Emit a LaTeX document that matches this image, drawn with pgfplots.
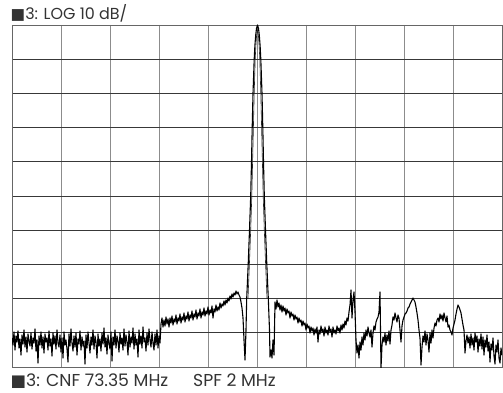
\documentclass[border=0pt]{standalone}
\usepackage{pgfplots}
\pgfplotsset{compat=1.18}
\usepackage{pgfplotstable}
\usepackage{fontspec}
\setmainfont{Poppins}
\newfontfamily\symfont{DejaVu Sans}
\definecolor{txt}{HTML}{333333}

% trace in screen units: x = column, y = row
\pgfplotstableread{
x y
12 338
13 345
14 332
15 350
16 336
17 342
18 331
19 348
20 339
21 355
22 335
23 344
24 330
25 347
26 337
27 352
28 334
29 341
30 346
31 333
32 349
33 338
34 343
35 329
36 351
37 340
38 363
39 336
40 345
41 332
42 348
43 337
44 353
45 334
46 342
47 338
48 350
49 331
50 346
51 339
52 356
53 333
54 344
55 336
56 349
57 330
58 343
59 347
60 335
61 352
62 338
63 358
64 332
65 345
66 340
67 349
68 362
69 334
70 346
71 329
72 343
73 351
74 336
75 347
76 333
77 355
78 339
79 344
80 331
81 350
82 337
83 346
84 341
85 364
86 335
87 348
88 332
89 343
90 353
91 337
92 345
93 330
94 349
95 336
96 342
97 358
98 334
99 346
100 339
101 351
102 333
103 344
104 328
105 347
106 338
107 354
108 335
109 343
110 349
111 332
112 361
113 337
114 345
115 330
116 348
117 336
118 341
119 352
120 333
121 344
122 338
123 350
124 329
125 346
126 335
127 342
128 355
129 331
130 347
131 337
132 343
133 328
134 349
135 334
136 345
137 339
138 357
139 330
140 344
141 336
142 348
143 327
144 342
145 338
146 351
147 333
148 345
149 329
150 340
151 347
152 332
153 343
154 350
155 334
156 345
157 330
158 348
159 336
160 343
161 324
162 318
163 327
164 320
165 326
166 317
167 324
168 319
169 327
170 318
171 323
172 316
173 325
174 319
175 322
176 315
177 324
178 318
179 321
180 314
181 323
182 317
183 320
184 313
185 322
186 316
187 319
188 312
189 321
190 315
191 318
192 311
193 320
194 314
195 317
196 310
197 319
198 313
199 316
200 309
201 318
202 312
203 315
204 308
205 316
206 311
207 314
208 307
209 315
210 310
211 313
212 306
213 318
214 309
215 312
216 305
217 311
218 307
219 310
220 303
221 308
222 304
223 306
224 301
225 305
226 300
227 303
228 298
229 301
230 296
231 299
232 294
233 297
234 293
235 295
236 291
237 294
238 292
239 295
240 297
241 302
242 308
243 318
244 340
245 360
246 330
246.7 298.6
248.2 264.4
249.5 230
250.7 196
251.5 161.8
252.2 127.6
253.0 93.4
254.2 59.2
254.9 45.5
255.7 35.3
256.5 28.4
257.5 25
258.5 28.4
259.3 35.3
260.1 45.5
260.8 59.2
262.0 93.4
262.8 127.6
263.5 161.8
264.3 196
265.5 230
266.8 264.4
268.3 298.6
269.5 330
270 357
271 350
272 358
273 340
274 355
275 302
276 309
277 300
278 307
279 303
280 310
281 305
282 312
283 306
284 311
285 308
286 315
287 309
288 313
289 311
290 318
291 312
292 316
293 314
294 320
295 315
296 319
297 317
298 323
299 318
300 322
301 320
302 326
303 321
304 325
305 323
306 330
307 324
308 328
309 326
310 333
311 327
312 331
313 328
314 335
315 329
316 333
317 327
318 342
319 330
320 334
321 326
322 332
323 329
324 336
325 327
326 333
327 330
328 335
329 326
330 332
331 329
332 337
333 327
334 333
335 330
336 334
337 326
338 331
339 328
340 333
341 325
342 330
343 324
344 328
345 321
346 325
347 318
348 321
349 312
350 305
351 290
352 318
353 300
354 292
355 312
356 340
357 353
358 345
359 358
360 342
361 350
362 337
363 345
364 333
365 340
366 330
367 336
368 327
369 333
370 337
371 330
372 347
373 333
374 326
375 330
376 322
377 319
378 317
379 312
380 292
381 368
382 345
383 337
384 342
385 333
386 345
387 335
388 341
389 331
390 344
391 330
392 325
393 317
394 320
395 313
396 318
397 322
398 315
399 318
400 330
401 342
402 326
403 320
404 317
405 314
406 313
407 311
408 308
409 307
410 304
411 302
412 300
413 298
414 300
415 302
416 307
417 313
418 320
419 330
420 338
421 365
422 347
423 336
424 342
425 331
426 345
427 334
428 340
429 352
430 333
431 343
432 330
433 338
434 328
435 323
436 326
437 320
438 318
439 322
440 314
441 319
442 315
443 321
444 313
445 318
446 322
447 316
448 327
449 325
450 330
451 332
452 335
453 328
454 324
455 320
456 314
457 309
458 305
459 307
460 310
461 313
462 319
463 325
464 330
465 353
466 341
467 335
468 343
469 337
470 348
471 334
472 345
473 338
474 350
475 333
476 342
477 336
478 352
479 339
480 346
481 334
482 349
483 337
484 355
485 340
486 347
487 335
488 351
489 342
490 362
491 344
492 350
493 338
494 356
495 364
496 345
497 352
498 340
499 358
500 363
501 348
502 355
}\trace

% inner edge of the carrier peak (second sweep line)
\pgfplotstableread{
x y
248.0 298.6
249.4 264.4
250.7 230
251.8 196
252.6 161.8
253.4 127.6
254.2 93.4
255.2 59.2
255.9 45.5
256.6 35.3
257.5 30
258.4 35.3
259.1 45.5
259.8 59.2
260.8 93.4
261.6 127.6
262.4 161.8
263.2 196
264.3 230
265.6 264.4
267.0 298.6
}\inner

\begin{document}
\begin{tikzpicture}[x=1bp,y=1bp]
\useasboundingbox (0,0) rectangle (503,392);
\begin{axis}[
  at={(12bp,25bp)}, anchor=south west,
  width=490bp, height=342bp, scale only axis,
  xmin=12, xmax=502, ymin=25, ymax=367,
  y dir=reverse,
  xtick={12,61,110,159,208,257,306,355,404,453,502},
  ytick={25,59.2,93.4,127.6,161.8,196,230.2,264.4,298.6,332.8,367},
  xticklabels={}, yticklabels={},
  major tick length=0pt,
  grid=major,
  x grid style={black!45, line width=0.8pt},
  y grid style={black!78, line width=0.8pt},
  axis line style={black!60, line width=0.9pt},
  clip=true,
]
\addplot[black, line width=1.1pt, line join=round] table[x=x, y=y] {\trace};
\addplot[black!85, line width=0.6pt] table[x=x, y=y] {\inner};
\end{axis}
\node[anchor=base west, text=txt, inner sep=0pt, font=\fontsize{16}{18}\selectfont]
  at (10.5,373) {{\symfont\fontsize{15.5}{15}\selectfont ■}3: LOG 10 dB/};
\node[anchor=base west, text=txt, inner sep=0pt, font=\fontsize{17.3}{19}\selectfont]
  at (10.5,5.5) {{\symfont\fontsize{16.5}{16}\selectfont ■}3: CNF 73.35 MHz};
\node[anchor=base west, text=txt, inner sep=0pt, font=\fontsize{17.3}{19}\selectfont]
  at (193,5.5) {SPF 2 MHz};
\end{tikzpicture}
\end{document}
